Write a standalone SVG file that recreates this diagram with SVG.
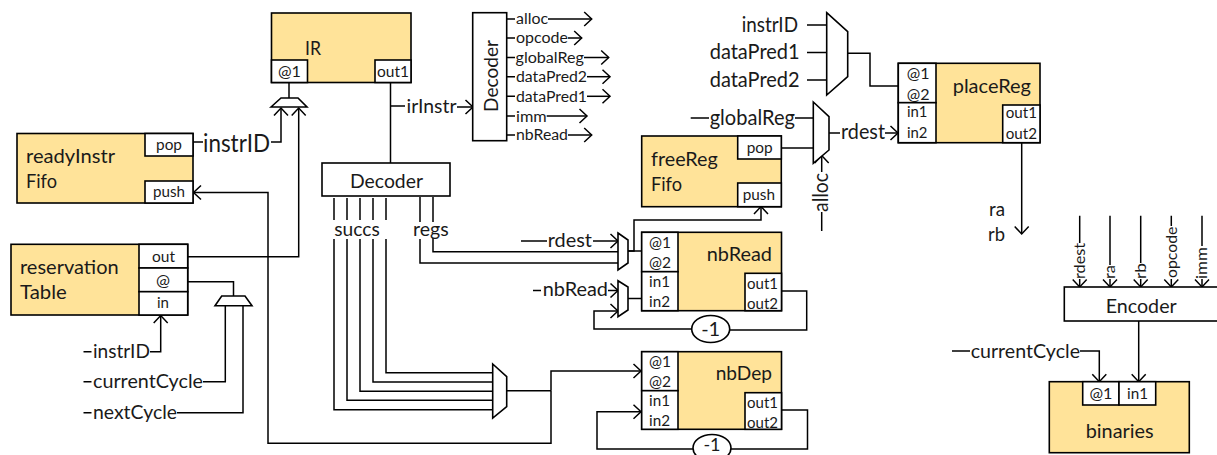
<svg xmlns="http://www.w3.org/2000/svg" width="1217" height="455" viewBox="0 0 1217 455">
<style>
text{font-family:"Lato","Open Sans","Liberation Sans",sans-serif;fill:#1a1a1a;font-size:15.5px}
.n{font-size:20px}.m{font-size:18.5px}.l{font-size:20.5px}
.b{fill:#FFE399;stroke:#000;stroke-width:1.6}
.w{fill:#fff;stroke:#000;stroke-width:1.6}
.p{fill:#fff;stroke:#000;stroke-width:1.6;stroke-linejoin:miter}
#connectors path{fill:none;stroke:#000;stroke-width:1.5}
.a{marker-end:url(#arr)}
</style>
<defs>
<marker id="arr" markerUnits="userSpaceOnUse" markerWidth="20" markerHeight="20" viewBox="-10 -10 20 20" refX="0" refY="0" orient="auto" overflow="visible">
<path d="M-7.5,-7 L0,0 L-7.5,7" fill="none" stroke="#000" stroke-width="1.5"/>
</marker>
</defs>
<rect width="1217" height="455" fill="#fff"/>

<g id="connectors">
<path d="M289,83V98"/>
<path d="M390.5,83V163"/>
<path d="M391,106H405"/>
<path class="a" d="M457,107H473"/>
<path d="M193,142H203"/>
<path class="a" d="M271,142H281V108"/>
<path class="a" d="M188,256.7H298.7V108"/>
<path d="M188,281.7H233.5V296"/>
<path d="M225.3,306V381.7H203"/>
<path d="M243,306V412.7H177"/>
<path class="a" d="M150,351.7H160.7V315.5"/>
<path d="M83.5,351.7H91.5M83.5,381.7H91.5M83.5,412.7H91.5"/>
<path d="M334,198V220M347,198V220M360,198V220M373,198V220M386,198V220M420,197V222M433,197V222"/>
<path d="M386,239V372.7H493M373,239V382H493M360,239V391.3H493M347,239V400.3H493M334,239V409.7H493"/>
<path d="M420,239V263H618M433,238V251.7H618"/>
<path d="M506.7,390.7H551"/>
<path class="a" d="M551,390.7V371H641"/>
<path class="a" d="M551,390.7V443.3H268V192.5H193.5"/>
<path class="a" d="M628,251H634V220H761V206.5"/>
<path d="M628,251H641"/>
<path d="M521,241H547"/>
<path class="a" d="M593,241H618"/>
<path d="M533,290.5H541"/>
<path class="a" d="M608,290.5H618"/>
<path d="M628,298.5H641"/>
<path d="M781.5,291H806.7V330H730"/>
<path class="a" d="M692,329H594V311H618"/>
<path d="M781.5,410H807.5V449H731"/>
<path class="a" d="M693,449H597V411.7H641"/>
<path d="M507,19H515M507,38H515M507,57.5H515M507,76.7H515M507,96.3H515M507,116H515M507,135H515"/>
<path class="a" d="M548,19H591.7"/>
<path class="a" d="M568,38H581.7"/>
<path class="a" d="M584,57.5H608.7"/>
<path class="a" d="M587,76.7H610"/>
<path class="a" d="M587,96.3H610"/>
<path class="a" d="M546.7,116H587"/>
<path class="a" d="M568,135H591.7"/>
<path d="M807,25H826.7M807,52.5H826.7M807,80H826.7"/>
<path d="M847.7,53.3H870V86H898"/>
<path d="M690.7,118H709M795,118H813.3"/>
<path d="M781.3,148H813.3"/>
<path d="M829,133H840"/>
<path class="a" d="M885,133H898"/>
<path class="a" d="M821.7,172V155.5"/>
<path d="M821.7,212V231"/>
<path class="a" d="M1021.7,143V234"/>
<path d="M1079.7,215.7V243M1110,215.7V265M1140.7,215.7V263M1171.3,215.7V226M1202,215.7V246"/>
<path class="a" d="M1079.7,279V287"/>
<path class="a" d="M1110,279V287"/>
<path class="a" d="M1140.7,279V287"/>
<path class="a" d="M1171.3,279V287"/>
<path class="a" d="M1202,279V287"/>
<path class="a" d="M1138.7,321V381.7"/>
<path d="M952,351H970"/>
<path class="a" d="M1080,351H1099.3V381.7"/>
</g>

<g id="IR">
<rect class="b" x="271.5" y="13" width="139.5" height="69.5"/>
<rect class="w" x="271.5" y="60" width="36" height="22.5"/>
<rect class="w" x="375" y="60" width="36" height="22.5"/>
<text class="n" x="305" y="55" textLength="16" lengthAdjust="spacingAndGlyphs">IR</text>
<text x="278" y="77" textLength="23" lengthAdjust="spacingAndGlyphs">@1</text>
<text x="377" y="77" textLength="32" lengthAdjust="spacingAndGlyphs">out1</text>
</g>
<g id="muxIR"><path class="p" d="M271,107L281,98H298L307,107Z"/></g>

<g id="readyInstrFifo">
<rect class="b" x="17" y="133.5" width="176" height="69.5"/>
<rect class="w" x="145" y="133.5" width="48" height="22.5"/>
<rect class="w" x="145" y="181" width="48" height="22"/>
<text class="n" x="26" y="163" textLength="89" lengthAdjust="spacingAndGlyphs">readyInstr</text>
<text class="n" x="26" y="188" textLength="31" lengthAdjust="spacingAndGlyphs">Fifo</text>
<text x="156" y="150" textLength="26" lengthAdjust="spacingAndGlyphs">pop</text>
<text x="153" y="197" textLength="32" lengthAdjust="spacingAndGlyphs">push</text>
</g>
<text style="font-size:25px" x="203" y="152" textLength="67" lengthAdjust="spacingAndGlyphs">instrID</text>

<g id="reservationTable">
<rect class="b" x="11" y="244.3" width="176.7" height="70.7"/>
<rect class="w" x="139" y="244.3" width="48.7" height="23.7"/>
<rect class="w" x="139" y="268" width="48.7" height="23.7"/>
<rect class="w" x="139" y="291.7" width="48.7" height="23.3"/>
<text class="n" x="20" y="274" textLength="98.7" lengthAdjust="spacingAndGlyphs">reservation</text>
<text class="n" x="20" y="299" textLength="46.7" lengthAdjust="spacingAndGlyphs">Table</text>
<text x="152" y="261.7" textLength="23" lengthAdjust="spacingAndGlyphs">out</text>
<text x="156" y="285.7" textLength="14" lengthAdjust="spacingAndGlyphs">@</text>
<text x="157" y="308" textLength="12" lengthAdjust="spacingAndGlyphs">in</text>
</g>
<g id="muxRes"><path class="p" d="M215,305.7L221.7,296H245L252,305.7Z"/></g>
<text class="m" x="93" y="357.7" textLength="57" lengthAdjust="spacingAndGlyphs">instrID</text>
<text class="m" x="93" y="388" textLength="110" lengthAdjust="spacingAndGlyphs">currentCycle</text>
<text class="m" x="93" y="419" textLength="84" lengthAdjust="spacingAndGlyphs">nextCycle</text>

<text class="m" x="406.5" y="113" textLength="50" lengthAdjust="spacingAndGlyphs">irInstr</text>
<g id="decoderH">
<rect class="w" x="322" y="163" width="128" height="33"/>
<text class="m" x="350" y="188" textLength="73" lengthAdjust="spacingAndGlyphs">Decoder</text>
</g>
<text class="m" x="334.3" y="235.7" textLength="45.4" lengthAdjust="spacingAndGlyphs">succs</text>
<text class="m" x="413" y="235.7" textLength="35.7" lengthAdjust="spacingAndGlyphs">regs</text>

<g id="decoderV">
<rect class="w" x="472.7" y="12.7" width="34" height="128"/>
<text class="n" transform="translate(498,112) rotate(-90)" textLength="72" lengthAdjust="spacingAndGlyphs">Decoder</text>
</g>
<text x="516" y="23.7" textLength="32" lengthAdjust="spacingAndGlyphs">alloc</text>
<text x="516" y="43" textLength="52" lengthAdjust="spacingAndGlyphs">opcode</text>
<text x="515.5" y="63" textLength="68.5" lengthAdjust="spacingAndGlyphs">globalReg</text>
<text x="516" y="82" textLength="71" lengthAdjust="spacingAndGlyphs">dataPred2</text>
<text x="516" y="102" textLength="71" lengthAdjust="spacingAndGlyphs">dataPred1</text>
<text x="516" y="121.7" textLength="30.7" lengthAdjust="spacingAndGlyphs">imm</text>
<text x="516" y="140" textLength="52" lengthAdjust="spacingAndGlyphs">nbRead</text>

<g id="muxPlace"><path class="p" d="M826.7,12.7L847.7,31.7V76.7L826.7,95Z"/></g>
<text class="l" x="741.7" y="31.7" textLength="56.3" lengthAdjust="spacingAndGlyphs">instrID</text>
<text class="l" x="709.7" y="59" textLength="90" lengthAdjust="spacingAndGlyphs">dataPred1</text>
<text class="l" x="709.7" y="86.7" textLength="90" lengthAdjust="spacingAndGlyphs">dataPred2</text>
<text class="l" x="709.7" y="125" textLength="85.3" lengthAdjust="spacingAndGlyphs">globalReg</text>
<g id="muxRdest"><path class="p" d="M813.3,102L829,116.7V150L813.3,163.3Z"/></g>
<text class="l" x="841" y="139" textLength="44" lengthAdjust="spacingAndGlyphs">rdest</text>
<text class="l" transform="translate(827.7,212) rotate(-90)" textLength="39" lengthAdjust="spacingAndGlyphs">alloc</text>

<g id="freeRegFifo">
<rect class="b" x="641.7" y="136" width="139.6" height="70.7"/>
<rect class="w" x="737.7" y="136" width="43.6" height="23"/>
<rect class="w" x="737.7" y="183" width="43.6" height="23.7"/>
<text class="n" x="651" y="166" textLength="66.7" lengthAdjust="spacingAndGlyphs">freeReg</text>
<text class="n" x="651" y="191" textLength="31" lengthAdjust="spacingAndGlyphs">Fifo</text>
<text x="746.7" y="153" textLength="26" lengthAdjust="spacingAndGlyphs">pop</text>
<text x="742.7" y="200" textLength="32.3" lengthAdjust="spacingAndGlyphs">push</text>
</g>

<g id="placeReg">
<rect class="b" x="898.3" y="63.3" width="141.7" height="79.4"/>
<rect class="w" x="898.3" y="63.3" width="37.7" height="39.4"/>
<rect class="w" x="898.3" y="102.7" width="37.7" height="40"/>
<rect class="w" x="1002.7" y="105" width="37.3" height="37.7"/>
<text class="n" x="952.7" y="92.7" textLength="78.3" lengthAdjust="spacingAndGlyphs">placeReg</text>
<text x="906.7" y="79" textLength="22.8" lengthAdjust="spacingAndGlyphs">@1</text>
<text x="906.7" y="100" textLength="22.8" lengthAdjust="spacingAndGlyphs">@2</text>
<text x="907" y="117" textLength="20.5" lengthAdjust="spacingAndGlyphs">in1</text>
<text x="907" y="138" textLength="20.5" lengthAdjust="spacingAndGlyphs">in2</text>
<text x="1005.7" y="118" textLength="31.3" lengthAdjust="spacingAndGlyphs">out1</text>
<text x="1005.7" y="139" textLength="31.3" lengthAdjust="spacingAndGlyphs">out2</text>
</g>
<text class="m" x="989" y="216" textLength="16" lengthAdjust="spacingAndGlyphs">ra</text>
<text class="m" x="988" y="240.7" textLength="17" lengthAdjust="spacingAndGlyphs">rb</text>

<g id="muxAt1"><path class="p" d="M618,233L628,240V263L618,270Z"/></g>
<g id="muxIn"><path class="p" d="M618,280.7L628,287V310L618,316.7Z"/></g>
<text class="m" x="547.7" y="247.3" textLength="44.3" lengthAdjust="spacingAndGlyphs">rdest</text>
<text class="m" x="542.7" y="296" textLength="65.3" lengthAdjust="spacingAndGlyphs">nbRead</text>

<g id="nbRead">
<rect class="b" x="641.7" y="232.3" width="139.8" height="78.4"/>
<rect class="w" x="641.7" y="232.3" width="36.3" height="39.4"/>
<rect class="w" x="641.7" y="271.7" width="36.3" height="39"/>
<rect class="w" x="745" y="273.3" width="36.5" height="37.4"/>
<text class="n" x="706.7" y="260.7" textLength="65.3" lengthAdjust="spacingAndGlyphs">nbRead</text>
<text x="649" y="247.7" textLength="22" lengthAdjust="spacingAndGlyphs">@1</text>
<text x="649" y="268" textLength="22" lengthAdjust="spacingAndGlyphs">@2</text>
<text x="649" y="286.7" textLength="21" lengthAdjust="spacingAndGlyphs">in1</text>
<text x="649" y="307" textLength="21" lengthAdjust="spacingAndGlyphs">in2</text>
<text x="747" y="289" textLength="31" lengthAdjust="spacingAndGlyphs">out1</text>
<text x="747" y="309" textLength="31" lengthAdjust="spacingAndGlyphs">out2</text>
</g>
<g id="minus1a"><ellipse class="w" cx="710.7" cy="329" rx="19" ry="13.5"/><text class="n" x="710.7" y="335.5" text-anchor="middle">-1</text></g>

<g id="muxDep"><path class="p" d="M492.7,364L506.7,376.7V406.7L492.7,418Z"/></g>
<g id="nbDep">
<rect class="b" x="641.7" y="351.7" width="139.8" height="77.6"/>
<rect class="w" x="641.7" y="351.7" width="36.3" height="39"/>
<rect class="w" x="641.7" y="390.7" width="36.3" height="38.6"/>
<rect class="w" x="745" y="392.7" width="36.5" height="36.6"/>
<text class="n" x="715.7" y="380" textLength="56.3" lengthAdjust="spacingAndGlyphs">nbDep</text>
<text x="649" y="366.7" textLength="22" lengthAdjust="spacingAndGlyphs">@1</text>
<text x="649" y="387" textLength="22" lengthAdjust="spacingAndGlyphs">@2</text>
<text x="649" y="405.6" textLength="21" lengthAdjust="spacingAndGlyphs">in1</text>
<text x="649" y="426" textLength="21" lengthAdjust="spacingAndGlyphs">in2</text>
<text x="747" y="408" textLength="31" lengthAdjust="spacingAndGlyphs">out1</text>
<text x="747" y="428" textLength="31" lengthAdjust="spacingAndGlyphs">out2</text>
</g>
<g id="minus1b"><ellipse class="w" cx="712" cy="448" rx="19" ry="13.5"/><text style="font-size:18px" x="712" y="451" text-anchor="middle">-1</text></g>

<g id="encoder">
<rect class="w" x="1064.3" y="287" width="154" height="34"/>
<text class="m" x="1105.7" y="312.7" textLength="71" lengthAdjust="spacingAndGlyphs" style="font-size:20px">Encoder</text>
</g>
<text transform="translate(1085,279) rotate(-90)" textLength="36" lengthAdjust="spacingAndGlyphs">rdest</text>
<text transform="translate(1115.3,279) rotate(-90)" textLength="14" lengthAdjust="spacingAndGlyphs">ra</text>
<text transform="translate(1146,279) rotate(-90)" textLength="16" lengthAdjust="spacingAndGlyphs">rb</text>
<text transform="translate(1176.6,278) rotate(-90)" textLength="51.5" lengthAdjust="spacingAndGlyphs">opcode</text>
<text transform="translate(1207.3,279) rotate(-90)" textLength="32" lengthAdjust="spacingAndGlyphs">imm</text>
<text class="m" x="970.7" y="357.7" textLength="109.3" lengthAdjust="spacingAndGlyphs">currentCycle</text>

<g id="binaries">
<rect class="b" x="1049.3" y="381.7" width="140" height="71"/>
<rect class="w" x="1082.7" y="381.7" width="36.3" height="23.3"/>
<rect class="w" x="1119" y="381.7" width="36.7" height="23.3"/>
<text x="1089.5" y="399.3" textLength="23" lengthAdjust="spacingAndGlyphs">@1</text>
<text x="1127" y="399.3" textLength="21" lengthAdjust="spacingAndGlyphs">in1</text>
<text class="n" x="1085.7" y="437.7" textLength="68" lengthAdjust="spacingAndGlyphs">binaries</text>
</g>
</svg>
